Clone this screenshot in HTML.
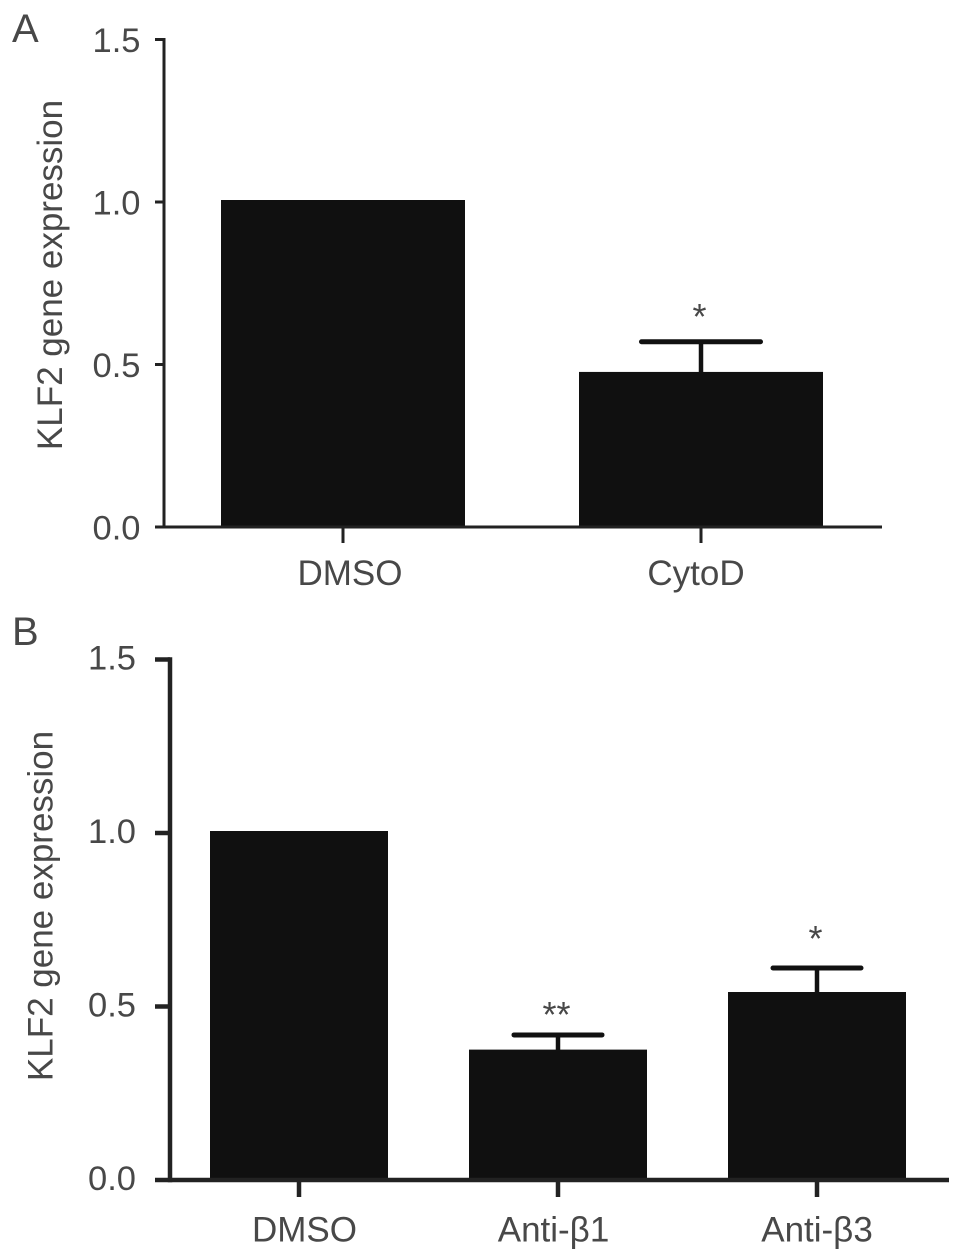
<!DOCTYPE html>
<html>
<head>
<meta charset="utf-8">
<style>
html,body{margin:0;padding:0;background:#fff;}
svg{display:block;}
text{font-family:"Liberation Sans",sans-serif;fill:#484848;}
</style>
</head>
<body>
<svg id="chart" width="969" height="1252" viewBox="0 0 969 1252" xmlns="http://www.w3.org/2000/svg"></svg>
<script>
const categoriesA = ["DMSO", "CytoD"];
const valuesA = [1.0, 0.471];
const errorsA = [0, 0.099];
const starsA = ["", "*"];
const categoriesB = ["DMSO", "Anti-β1", "Anti-β3"];
const valuesB = [1.0, 0.37, 0.536];
const errorsB = [0, 0.048, 0.075];
const starsB = ["", "**", "*"];
const yTicks = ["0.0", "0.5", "1.0", "1.5"];
const yTitle = "KLF2 gene expression";

const svg = document.getElementById('chart');
function add(tag, attrs, parent, text) {
  const el = document.createElementNS('http://www.w3.org/2000/svg', tag);
  for (const k in attrs) el.setAttribute(k, attrs[k]);
  if (text !== undefined) el.textContent = text;
  (parent || svg).appendChild(el);
  return el;
}
function drawPanel(cfg) {
  const g = add('g', {});
  
  
  const y = v => cfg.y0 + (cfg.y1 - cfg.y0) * v / 1.5;
  const lw = cfg.lw;
  const label = add('text', {x: cfg.labelX, y: cfg.labelY, 'font-size': 40}, g, cfg.label);
  
  

  cfg.values.forEach((v, i) => {
    const cx = cfg.centers[i];
    const barTop = y(v) - 2;
    const bar = add('rect', {x: cx - cfg.barW / 2, y: barTop, width: cfg.barW, height: cfg.y0 - barTop, fill: '#101010'}, g);
    
    
    if (cfg.errors[i] > 0) {
      const top = y(v + cfg.errors[i]);
      const stem = add('line', {x1: cx, x2: cx, y1: y(v), y2: top, stroke: '#111', 'stroke-width': 4.5}, g);
      
      
      const cap = add('line', {x1: cx - cfg.capW / 2, x2: cx + cfg.capW / 2, y1: top, y2: top, stroke: '#111', 'stroke-width': 5, 'stroke-linecap': 'round'}, g);
      
      
    }
    if (cfg.stars[i]) {
      const top = y(v + cfg.errors[i]);
      const star = add('text', {x: cx - 1.5, y: top - cfg.starGap[i] + 16, 'font-size': 36, 'text-anchor': 'middle'}, g, cfg.stars[i]);
      
      
    }
    const tick = add('line', {x1: cx, x2: cx, y1: cfg.y0, y2: cfg.y0 + cfg.tickLen, stroke: '#222', 'stroke-width': lw}, g);
    
    
    const tl = add('text', {x: cx + cfg.labelShift[i], y: cfg.xLabelY, 'font-size': 35, 'text-anchor': 'middle'}, g, cfg.categories[i]);
    
    
  });

  const yAxis = add('line', {x1: cfg.x0, x2: cfg.x0, y1: cfg.y1 - lw / 2, y2: cfg.y0 + lw / 2, stroke: '#222', 'stroke-width': lw}, g);
  
  
  const xAxis = add('line', {x1: cfg.x0, x2: cfg.xEnd, y1: cfg.y0, y2: cfg.y0, stroke: '#222', 'stroke-width': lw}, g);
  
  

  yTicks.forEach(t => {
    const py = y(parseFloat(t));
    const tick = add('line', {x1: cfg.yTickX, x2: cfg.x0, y1: py, y2: py, stroke: '#222', 'stroke-width': lw}, g);
    
    
    const tl = add('text', {x: cfg.yLabelX, y: py + cfg.yLabelDy, 'font-size': 34.5, 'text-anchor': 'end'}, g, t);
    
    
  });

  const mid = cfg.titleY;
  const title = add('text', {x: cfg.titleX, y: mid, 'font-size': 35, 'text-anchor': 'middle', transform: 'rotate(-90 ' + cfg.titleX + ' ' + mid + ')'}, g, yTitle);
  
  
}
drawPanel({name: 'panel-a', label: 'A', labelX: 12, labelY: 42, x0: 164, xEnd: 882, y0: 527, y1: 39.5, lw: 3,
  yTickX: 155, yLabelX: 140.5, yLabelDy: 12.5, tickLen: 16, labelShift: [7, -5], starGap: [0, 29],
  barW: 244, capW: 119, centers: [343, 701], categories: categoriesA, values: valuesA, errors: errorsA, stars: starsA,
  xLabelY: 585, titleX: 62, titleY: 275});
drawPanel({name: 'panel-b', label: 'B', labelX: 12, labelY: 645, x0: 170, xEnd: 949, y0: 1180, y1: 659.5, lw: 4.5,
  yTickX: 155, yLabelX: 136, yLabelDy: 10, tickLen: 17, labelShift: [5.5, -4.5, 0], starGap: [0, 24, 33],
  barW: 178, capW: 88, centers: [299, 558, 817], categories: categoriesB, values: valuesB, errors: errorsB, stars: starsB,
  xLabelY: 1241.5, titleX: 52.5, titleY: 906});
</script>
</body>
</html>
